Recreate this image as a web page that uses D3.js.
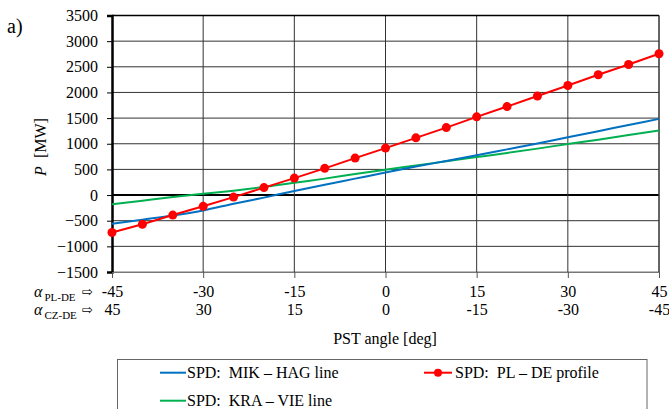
<!DOCTYPE html>
<html><head><meta charset="utf-8">
<script src="https://cdn.jsdelivr.net/npm/d3@7"></script>
<style>
html,body{margin:0;padding:0;background:#fff;}
svg{display:block;}
svg text{font-family:"Liberation Serif","Times New Roman",serif;}
</style></head>
<body>
<svg id="c" width="669" height="409"></svg>
<script>
// ---- data ----
const angles   = [-45,-40,-35,-30,-25,-20,-15,-10,-5,0,5,10,15,20,25,30,35,40,45];
const plDeProfile = [-730,-570,-390,-220,-40,145,330,520,720,915,1115,1315,1525,1725,1930,2135,2345,2545,2755];
const mikHagLine  = [-560,-480,-400,-300,-170,-50,80,200,320,440,555,665,775,890,1005,1125,1245,1365,1485];
const kraVieLine  = [-180,-110,-40,25,85,155,240,320,410,495,575,660,740,820,905,995,1080,1170,1260];
const xTickValues = [-45,-30,-15,0,15,30,45];
const xTickLabelsPL = ["-45","-30","-15","0","15","30","45"];
const xTickLabelsCZ = ["45","30","15","0","-15","-30","-45"];
const yTickValues = [-1500,-1000,-500,0,500,1000,1500,2000,2500,3000,3500];
const legendLabels = ["SPD:  MIK \u2013 HAG line","SPD:  PL \u2013 DE profile","SPD:  KRA \u2013 VIE line"];

const colBlue = "#0070C0", colRed = "#FF0000", colGreen = "#00B050";
const SERIF = '"Liberation Serif","Times New Roman",serif';

const svg = d3.select("#c");
const L = 112, R = 659, T = 15.5, B = 272;
const x = d3.scaleLinear().domain([-45,45]).range([L,R]);
const y = d3.scaleLinear().domain([-1500,3500]).range([B,T]);

// grid
const g = svg.append("g");
g.selectAll("line.h").data(yTickValues).enter().append("line")
  .attr("x1",L).attr("x2",R).attr("y1",d=>y(d)).attr("y2",d=>y(d))
  .attr("stroke",d=>d===0?"#000":(d===-1500?"#777":"#333"))
  .attr("stroke-width",d=>d===0?2:1);
g.selectAll("line.v").data(xTickValues.slice(1)).enter().append("line")
  .attr("x1",d=>x(d)).attr("x2",d=>x(d)).attr("y1",T).attr("y2",B)
  .attr("stroke","#333").attr("stroke-width",1);

// y axis
const yAxis = svg.append("g").attr("transform",`translate(${L},0)`)
  .call(d3.axisLeft(y).tickValues(yTickValues).tickSize(5).tickPadding(9).tickFormat(d3.format("d")));
yAxis.attr("font-family",null).attr("font-size",null);
yAxis.select(".domain").attr("stroke","#000").attr("stroke-width",2.5);
yAxis.selectAll(".tick line").attr("stroke","#000");
yAxis.selectAll("text").style("font-size","16px").style("font-family",SERIF).attr("fill","#000");

// x axis row 1
const xAxis1 = svg.append("g").attr("transform",`translate(0,${B})`)
  .call(d3.axisBottom(x).tickValues(xTickValues).tickSize(6)
    .tickFormat((d,i)=>xTickLabelsPL[i]));
xAxis1.attr("font-family",null).attr("font-size",null);
xAxis1.select(".domain").attr("stroke","#777").attr("stroke-width",1);
xAxis1.selectAll(".tick line").attr("stroke","#555");
xAxis1.selectAll("text").style("font-size","16px").style("font-family",SERIF)
  .attr("fill","#000").attr("y",25).attr("dy",0);
// x axis row 2
const xAxis2 = svg.append("g").attr("transform",`translate(0,${B})`)
  .call(d3.axisBottom(x).tickValues(xTickValues).tickSize(0)
    .tickFormat((d,i)=>xTickLabelsCZ[i]));
xAxis2.attr("font-family",null).attr("font-size",null);
xAxis2.select(".domain").remove();
xAxis2.selectAll("text").style("font-size","16px").style("font-family",SERIF)
  .attr("fill","#000").attr("y",43).attr("dy",0);

// alpha labels
function alphaLabel(yb, sub){
  const t = svg.append("text").attr("x",34).attr("y",yb).style("font-size","16px");
  t.append("tspan").attr("font-style","italic").text("\u03B1");
  t.append("tspan").style("font-size","11px").attr("dx",2).attr("dy",4).text(sub);
  svg.append("text").attr("x",82).attr("y",yb-1).style("font-size","13px")
    .style("font-family","DejaVu Sans, sans-serif").text("\u21E8");
}
alphaLabel(297,"PL-DE");
alphaLabel(315,"CZ-DE");

// top and right borders
svg.append("line").attr("x1",L).attr("x2",R).attr("y1",T).attr("y2",T).attr("stroke","#000").attr("stroke-width",1.5);
svg.append("line").attr("x1",R).attr("x2",R).attr("y1",T).attr("y2",B).attr("stroke","#333").attr("stroke-width",1);

// lines
const line = d3.line().x(d=>x(d[0])).y(d=>y(d[1])).curve(d3.curveMonotoneX);
const lineLin = d3.line().x(d=>x(d[0])).y(d=>y(d[1]));
const plot = svg.append("g");
plot.append("path").datum(angles.map((a,i)=>[a,kraVieLine[i]])).attr("d",line)
  .attr("fill","none").attr("stroke",colGreen).attr("stroke-width",2);
plot.append("path").datum(angles.map((a,i)=>[a,mikHagLine[i]])).attr("d",line)
  .attr("fill","none").attr("stroke",colBlue).attr("stroke-width",2);
const redData = angles.map((a,i)=>[a,plDeProfile[i]]);
plot.append("path").datum(redData).attr("d",lineLin)
  .attr("fill","none").attr("stroke",colRed).attr("stroke-width",2);
plot.selectAll("circle").data(redData).enter().append("circle")
  .attr("cx",d=>x(d[0])).attr("cy",d=>y(d[1])).attr("r",4.5).attr("fill",colRed);

// axis titles
svg.append("text").attr("x",7).attr("y",33).style("font-size","20px").text("a)");
const yt = svg.append("text").attr("transform","translate(46,147) rotate(-90)")
  .attr("text-anchor","middle").style("font-size","16px");
yt.append("tspan").attr("font-style","italic").text("P");
yt.append("tspan").style("white-space","pre").text("  [MW]");
svg.append("text").attr("x",385).attr("y",344).attr("text-anchor","middle")
  .style("font-size","16px").text("PST angle [deg]");

// legend
svg.append("rect").attr("x",117.5).attr("y",359.5).attr("width",529.5).attr("height",60)
  .attr("fill","none").attr("stroke","#666").attr("stroke-width",1);
const leg = [
  {x1:160,x2:186,y:372.7,c:colBlue,m:false,t:legendLabels[0],tx:187,ty:378},
  {x1:424,x2:452,y:372.7,c:colRed,m:true,t:legendLabels[1],tx:455,ty:378},
  {x1:160,x2:186,y:400.7,c:colGreen,m:false,t:legendLabels[2],tx:187,ty:406}
];
leg.forEach(e=>{
  svg.append("line").attr("x1",e.x1).attr("x2",e.x2).attr("y1",e.y).attr("y2",e.y)
    .attr("stroke",e.c).attr("stroke-width",2);
  if(e.m) svg.append("circle").attr("cx",(e.x1+e.x2)/2).attr("cy",e.y).attr("r",4).attr("fill",e.c);
  svg.append("text").attr("x",e.tx).attr("y",e.ty).style("font-size","16px")
    .style("white-space","pre").text(e.t);
});
</script>
</body></html>
